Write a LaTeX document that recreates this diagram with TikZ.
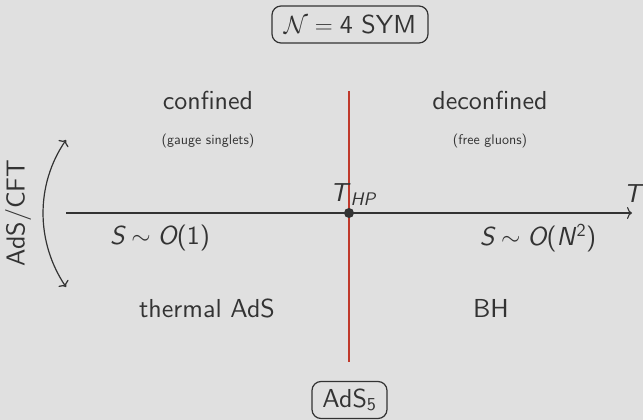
\documentclass[tikz,border=0pt]{standalone}
\usepackage{amsmath}
\usepackage{fontspec}
\setsansfont{lmsans10-regular.otf}[ItalicFont=lmsans10-oblique.otf, BoldFont=lmsans10-bold.otf]
\usetikzlibrary{arrows.meta}
\definecolor{bg}{HTML}{E0E0E0}
\definecolor{ink}{HTML}{333333}
\definecolor{redline}{HTML}{C0392B}
\tikzset{
  lbl/.style={text=ink, font=\sffamily\fontsize{26}{30}\selectfont, inner sep=0pt},
  sml/.style={text=ink, font=\sffamily\fontsize{14}{16}\selectfont, inner sep=0pt},
  rbox/.style={draw=ink, line width=1.2pt, rounded corners=9pt, text=ink,
    font=\sffamily\fontsize{26}{30}\selectfont, inner sep=0pt, minimum height=37pt},
  axisline/.style={draw=ink, line width=1.1pt},
  tip/.style={-{To[length=5pt,width=12pt]}},
}
\begin{document}
\begin{tikzpicture}[x=1pt,y=-1pt]
\path[fill=bg] (0,0) rectangle (643,420);
\useasboundingbox (0,0) rectangle (643,420);
% boxes
\node[rbox, minimum width=156pt] (sym) at (350,24.5) {$\mathcal{N}=\text{4 SYM}$};
\node[rbox, minimum width=75pt] (ads5) at (349.5,400) {AdS\textsubscript{5}};
% red transition line
\coordinate (rtop) at (349,91);
\coordinate (rbot) at (349,362);
\draw[redline, line width=2.4pt] (rtop) -- (rbot);
% axis
\coordinate (axL) at (66,213);
\coordinate (axR) at (632,213);
\draw[axisline, tip] (axL) -- (axR);
\node[lbl] (T) at (634,194) {\textit{T}};
\node[circle, fill=ink, inner sep=0pt, minimum size=10pt] (thp) at (349,213) {};
\node[lbl, anchor=south west] (thplbl) at (330,206) {\textit{T}$_{\textit{HP}}$};
% AdS/CFT arc
\coordinate (arcT) at (66,140);
\coordinate (arcB) at (66,287);
\draw[ink, line width=1.2pt, {To[length=5pt,width=12pt]}-{To[length=5pt,width=12pt]}] (arcT) .. controls (35.6,184.2) and (35.6,241.8) .. (arcB);
\node[lbl, rotate=90] (adscft) at (18,213) {AdS/CFT};
% labels
\node[lbl] (conf) at (208,100) {confined};
\node[sml] (gauge) at (208,141) {(gauge singlets)};
\node[lbl] (deconf) at (490,100) {deconfined};
\node[sml] (gluons) at (490,141) {(free gluons)};
\node[lbl] (s1) at (160,238) {$\textit{S}\sim\textit{O}\text{(1)}$};
\node[lbl] (s2) at (538,238) {$\textit{S}\sim\textit{O}\text{(}\textit{N}\kern1.5pt^{\text{2}}\text{)}$};
\node[lbl] (thermal) at (207,308) {thermal AdS};
\node[lbl] (bh) at (491,308) {BH};
\end{tikzpicture}
\end{document}
